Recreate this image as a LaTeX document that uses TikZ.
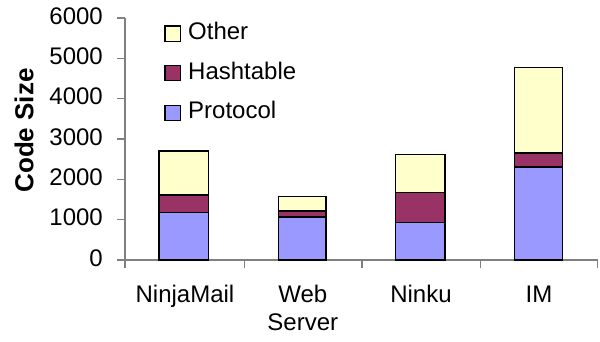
\documentclass[tikz,border=0pt]{standalone}
\usepackage{fontspec}
\setmainfont{Liberation Sans}
\definecolor{otherc}{HTML}{FFFFCC}
\definecolor{hashc}{HTML}{993366}
\definecolor{protc}{HTML}{9999FF}
\definecolor{axisc}{HTML}{808080}
\begin{document}
\begin{tikzpicture}[x=1pt,y=-1pt,
  axisline/.style={draw=axisc,line width=1.2pt},
  seg/.style={draw=black,line width=1.6pt},
  ticklab/.style={font=\fontsize{24}{28}\selectfont,anchor=east,inner sep=0pt},
  catlab/.style={font=\fontsize{24}{27.5}\selectfont,anchor=base,inner sep=0pt,align=center},
  leglab/.style={font=\fontsize{24}{28}\selectfont,anchor=base west,inner sep=0pt},
  legbox/.style={draw=black,line width=1.4pt}]
\useasboundingbox (0,0) rectangle (600,341);
% axes
\draw[axisline] (125,18) -- (125,267.5);
\draw[axisline] (117,260) -- (598,260);
\foreach \k in {0,...,6}{
  \draw[axisline] (117,{260-\k*40.333}) -- (125,{260-\k*40.333});
  \pgfmathtruncatemacro{\v}{\k*1000}
  \node[ticklab] (t\k) at (103,{258-\k*40.333}) {\v};
}
\foreach \x in {244.3,362,480.3,597.7}{
  \draw[axisline] (\x,260) -- (\x,267.5);
}
% bars: x0, x1, protocol top, hashtable top, other top
\foreach \a/\b/\p/\h/\o in {159/208.3/212.3/194.7/150.7, 278.3/326/216.7/210.7/196.3, 395.3/445/222.3/192.3/154.3, 514.3/562.3/167/153/67.3}{
  \filldraw[seg,fill=protc] (\a,260) rectangle (\b,\p);
  \filldraw[seg,fill=hashc] (\a,\p) rectangle (\b,\h);
  \filldraw[seg,fill=otherc] (\a,\h) rectangle (\b,\o);
}
% category labels
\node[catlab] (c1) at (185,302.7) {NinjaMail};
\node[catlab] (c2) at (302.8,330.2) {Web\\Server};
\node[catlab] (c3) at (421,302.7) {Ninku};
\node[catlab] (c4) at (539,302.7) {IM};
% y label
\node[font=\fontsize{26}{30}\selectfont\bfseries,rotate=90,inner sep=0pt] (ylab) at (24,130.5) {Code Size};
% legend
\filldraw[legbox,fill=otherc] (165,26) rectangle (180.7,41.3);
\filldraw[legbox,fill=hashc] (165,65.7) rectangle (180.7,80.7);
\filldraw[legbox,fill=protc] (165,105.3) rectangle (180.7,120.7);
\node[leglab] (l1) at (188,39.3) {Other};
\node[leglab] (l2) at (188,79.3) {Hashtable};
\node[leglab] (l3) at (188,118.3) {Protocol};
\end{tikzpicture}
\end{document}
